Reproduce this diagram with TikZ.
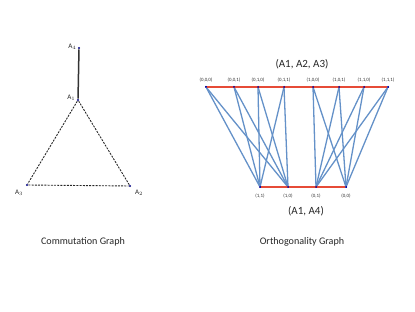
\documentclass[tikz,border=0pt]{standalone}
\usepackage{fontspec}
\setmainfont{Carlito}
\begin{document}
\begin{tikzpicture}[x=1pt,y=-1pt,
  dot/.style={circle,fill=blue!50!black,inner sep=0pt,minimum size=2.4pt},
  bdot/.style={circle,fill=blue!60!black,inner sep=0pt,minimum size=2pt},
  alab/.style={font=\fontsize{7}{8}\selectfont,text=black!85,inner sep=0.5pt},
  tiny/.style={font=\fontsize{4.9}{6}\selectfont,text=black!80,inner sep=0.5pt},
  captext/.style={font=\fontsize{10.1}{12}\selectfont,text=black!85},
  ttl/.style={font=\fontsize{11}{13}\selectfont,text=black!85},
  blu/.style={draw={rgb,255:red,100;green,145;blue,200},line width=1.3pt},
  redl/.style={draw={rgb,255:red,230;green,75;blue,55},line width=1.5pt},
  dsh/.style={draw=black!85,dashed,dash pattern=on 2pt off 1.2pt,line width=0.9pt}]
\useasboundingbox (0,0) rectangle (415,312);
% Commutation graph
\node[dot] (A4) at (79,48) {};
\node[dot] (A1) at (78,100) {};
\node[dot] (A3) at (27,185) {};
\node[dot] (A2) at (130,186) {};
\draw[draw=black!80,line width=1.5pt] (A4) -- (A1);
\draw[dsh] (A1) -- (A3) -- (A2) -- (A1);
\node[alab,anchor=east] at (77,47) {A$_4$};
\node[alab,anchor=east] at (76,98) {A$_1$};
\node[alab] at (19,193) {A$_3$};
\node[alab] at (139,193) {A$_2$};
\node[captext] (c1) at (83,242) {Commutation Graph};
% Orthogonality graph
\foreach \n/\x/\t in {t1/206/{(0,0,0)},t2/234/{(0,0,1)},t3/258/{(0,1,0)},t4/284/{(0,1,1)},t5/313/{(1,0,0)},t6/339/{(1,0,1)},t7/364/{(1,1,0)},t8/388/{(1,1,1)}}{
  \node[bdot] (\n) at (\x,87) {};
  \node[tiny] at (\x,80) {\t};
}
\foreach \n/\x/\t in {b1/260/{(1,1)},b2/288/{(1,0)},b3/316/{(0,1)},b4/346/{(0,0)}}{
  \node[bdot] (\n) at (\x,187) {};
  \node[tiny] at (\x,196) {\t};
}
\foreach \a in {t1,t2,t3,t4}{\draw[blu] (\a) -- (b1); \draw[blu] (\a) -- (b2);}
\foreach \a in {t5,t6,t7,t8}{\draw[blu] (\a) -- (b3); \draw[blu] (\a) -- (b4);}
\draw[redl] (t1) -- (t8);
\draw[redl] (b1) -- (b4);
\foreach \n in {t1,t2,t3,t4,t5,t6,t7,t8,b1,b2,b3,b4}{\node[bdot] at (\n) {};}
\node[ttl] (h1) at (302,64) {(A1, A2, A3)};
\node[ttl] (h2) at (306,211) {(A1, A4)};
\node[captext] (c2) at (302,242) {Orthogonality Graph};
\end{tikzpicture}
\end{document}
